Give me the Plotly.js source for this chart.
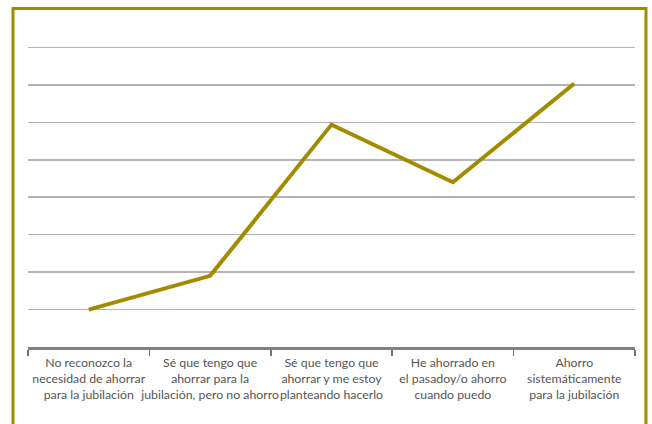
<!DOCTYPE html>
<html>
<head>
<meta charset="utf-8">
<script src="https://cdn.plot.ly/plotly-3.0.1.min.js"></script>
<style>html,body{margin:0;padding:0;background:#fff;}#chart{width:652px;height:424px;}</style>
</head>
<body>
<div id="chart"></div>
<script>
const categories = [
  "No reconozco la<br>necesidad de ahorrar<br>para la jubilación",
  "Sé que tengo que<br>ahorrar para la<br>jubilación, pero no ahorro",
  "Sé que tengo que<br>ahorrar y me estoy<br>planteando hacerlo",
  "He ahorrado en<br>el pasadoy/o ahorro<br>cuando puedo",
  "Ahorro<br>sistemáticamente<br>para la jubilación"
];
const values = [5, 9.5, 29.7, 22, 35.2];

const trace = {
  x: categories,
  y: values,
  type: 'scatter',
  mode: 'lines',
  line: {color: '#a38b00', width: 4},
  hoverinfo: 'none'
};

const layout = {
  width: 652, height: 424,
  margin: {l: 28, r: 17, t: 39.5, b: 76.5},
  paper_bgcolor: '#ffffff',
  plot_bgcolor: '#ffffff',
  showlegend: false,
  font: {family: 'Lato, sans-serif', size: 12.3, color: '#555555'},
  xaxis: {
    type: 'category',
    range: [-0.5, 4.5],
    tickson: 'boundaries',
    tickangle: 0,
    ticklabelstandoff: 3,
    ticks: 'outside', ticklen: 6, tickcolor: '#707070', tickwidth: 1.5,
    showline: true, linecolor: '#808080', linewidth: 2.5,
    showgrid: false, zeroline: false,
    tickfont: {family: 'Lato, sans-serif', size: 12.3, color: '#555555'},
    fixedrange: true
  },
  yaxis: {
    range: [0, 41], tickvals: [5, 10, 15, 20, 25, 30, 35, 40],
    showticklabels: false,
    showgrid: true, gridcolor: '#b4b4b4', gridwidth: 1.5,
    zeroline: false, showline: false, ticks: '',
    fixedrange: true
  },
  shapes: [{
    type: 'rect', xref: 'paper', yref: 'paper',
    x0: -0.0247, x1: 1.0181, y0: -0.3, y1: 1.1023,
    line: {color: '#a38b00', width: 3},
    fillcolor: 'rgba(0,0,0,0)', layer: 'below'
  }]
};

Plotly.newPlot('chart', [trace], layout, {displayModeBar: false, staticPlot: true});
</script>
</body>
</html>
